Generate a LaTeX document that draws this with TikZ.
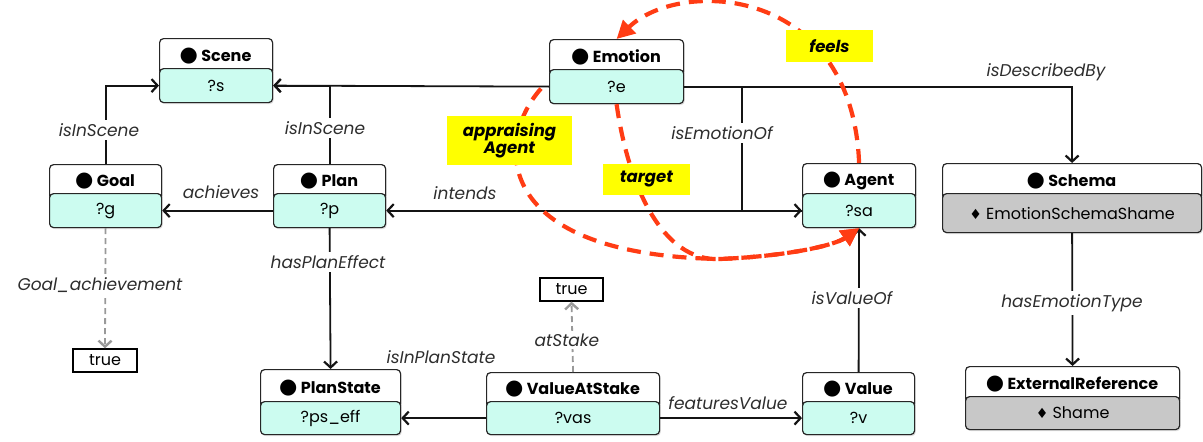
\documentclass[tikz,border=0pt]{standalone}
\usepackage{fontspec}
\setmainfont{Poppins}
\newfontfamily\symfont{DejaVu Sans}
\usetikzlibrary{arrows.meta,calc,shadows}

\definecolor{mint}{RGB}{204,252,240}
\definecolor{schemagray}{RGB}{200,200,200}
\definecolor{edgeink}{RGB}{20,20,20}
\definecolor{labelink}{RGB}{45,45,45}
\definecolor{redflow}{RGB}{255,60,20}
\definecolor{hilite}{RGB}{255,255,0}

\newcommand\bulletmark{{\symfont\fontsize{21}{21}\selectfont ●}}
\newcommand\diamondmark{{\symfont\fontsize{14}{14}\selectfont ♦}}

\tikzset{
  boxbase/.style={draw=black!85, line width=1.2pt, rounded corners=4pt,
    anchor=north west, inner sep=0pt,
    drop shadow={shadow xshift=1.2pt, shadow yshift=-1.5pt, opacity=0.25}},
  hdrbox/.style={boxbase, fill=white},
  bodybox/.style={boxbase, font=\fontsize{16}{16}\selectfont},
  titletext/.style={font=\bfseries\fontsize{16}{16}\selectfont, inner sep=0pt},
  conn/.style={draw=edgeink, line width=1.8pt,
    -{Straight Barb[length=6pt,width=13pt,line width=2.2pt]}},
  softconn/.style={draw=black!40, line width=1.8pt, dash pattern=on 6pt off 4pt,
    -{Straight Barb[length=6pt,width=13pt,line width=2.4pt]}},
  rel/.style={font=\itshape\fontsize{17}{17}\selectfont, text=labelink, inner sep=2pt},
  relcut/.style={rel, fill=white, inner sep=3pt},
  flow/.style={draw=redflow, line width=4.2pt, dash pattern=on 14pt off 9pt,
    -{Triangle[length=18pt,width=18pt]}},
  tag/.style={fill=hilite, font=\bfseries\itshape\fontsize{16.5}{17}\selectfont,
    align=center, inner sep=0pt},
  litbox/.style={draw=black, line width=1.4pt, font=\fontsize{16}{16}\selectfont,
    inner sep=0pt},
}

% class box: [body fill]{name}{left}{top}{right}{body top}{bottom}{title}{body text}
\newcommand\classbox[9][mint]{%
  \node[hdrbox, minimum width={(#5-#3)*1pt}, minimum height={(#6-#4+6)*1pt}]
    (#2h) at (#3,#4) {};
  \node[titletext] (#2t) at ({(#3+#5)/2},{(#4+#6)/2+3}) {\bulletmark\ #8};
  \node[bodybox, fill=#1, minimum width={(#5-#3)*1pt}, minimum height={(#7-#6)*1pt}]
    (#2) at (#3,#6) {#9};
}

\begin{document}
\begin{tikzpicture}[x=1pt,y=-1pt]
\useasboundingbox (0,0) rectangle (1203,442);

% classes
\classbox{scene}{159}{38}{272}{68}{102}{Scene}{?s}
\classbox{emotion}{549}{39}{683}{69}{103}{Emotion}{?e}
\classbox{goal}{49}{164}{161}{193}{227}{Goal}{?g}
\classbox{plan}{273}{164}{385}{193}{227}{Plan}{?p}
\classbox{agent}{802}{163}{915}{193}{227}{Agent}{?sa}
\classbox[schemagray]{schema}{942}{163}{1201}{193}{232}{Schema}{\diamondmark\ EmotionSchemaShame}
\classbox{planstate}{260}{369}{400}{401}{434}{PlanState}{?ps\_eff}
\classbox{vas}{486}{372}{659}{401}{434}{ValueAtStake}{?vas}
\classbox{value}{802}{372}{914}{401}{434}{Value}{?v}
\classbox[schemagray]{extref}{965}{366}{1179}{396}{429}{ExternalReference}{\diamondmark\ Shame}

% literal values
\node[litbox, minimum width=64pt, minimum height=23pt] (goaltrue) at (105,360.5) {true};
\node[litbox, minimum width=63pt, minimum height=23pt] (staketrue) at (571.5,289.5) {true};

% junction column for isEmotionOf
\coordinate (eoj) at (742,0);

% relations
\draw[conn] (goalh.north) |- (scene.west);
\draw[conn] (planh.north) |- (scene.east);
\draw[conn] (emotion.west) -- (scene.east);
\draw[conn] (emotion.east) -| (schemah.north);
\draw[conn] (emotion.east) -| (eoj |- agent.west) -- (agent.west);
\draw[conn] (agent.west) -- (plan.east);
\draw[conn] (plan.west) -- (goal.east);
\draw[conn] (plan.south) -- (planstateh.north);
\draw[conn] (vas.west) -- (planstate.east);
\draw[conn] (vas.east) -- (value.west);
\draw[conn] (valueh.north) -- (agent.south);
\draw[conn] (schema.south) -- (extrefh.north);
\draw[softconn] (goal.south) -- (goaltrue.north);
\draw[softconn] (vash.north) -- (staketrue.south);

% relation labels
\node[relcut] (l1) at (99,130) {isInScene};
\node[relcut] (l2) at (325,128) {isInScene};
\node[rel] (l3) at (1046,72) {isDescribedBy};
\node[relcut] (l4) at (722,133) {isEmotionOf};
\node[rel] (l5) at (465,193) {intends};
\node[rel] (l6) at (221,192) {achieves};
\node[relcut] (l7) at (328,262) {hasPlanEffect};
\node[rel] (l8) at (441,357) {isInPlanState};
\node[rel] (l9) at (728,403) {featuresValue};
\node[relcut] (l10) at (852,298) {isValueOf};
\node[relcut] (l11) at (1072,303) {hasEmotionType};
\node[relcut] (l12) at (100,285) {Goal\_achievement};
\node[relcut] (l13) at (567,340) {atStake};

% appraisal flows
\coordinate (apstart) at ($(emotion.west)+(-8,2)$);
\coordinate (merge) at (720,259);
\draw[flow] (apstart) .. controls (495,140) and (490,255) .. (merge)
  .. controls (790,256) and (835,245) .. (agent.south);
\draw[flow] (emotion.south) .. controls (628,185) and (662,262) .. (merge)
  .. controls (790,256) and (835,245) .. (agent.south);
\draw[flow] (agenth.north) .. controls (852,-15) and (680,-22) .. (emotionh.north);

\node[tag, minimum width=125pt, minimum height=49pt] (apptag) at (509.5,140.5) {appraising\\Agent};
\node[tag, minimum width=87pt, minimum height=31pt] (targettag) at (646.5,179.5) {target};
\node[tag, minimum width=87pt, minimum height=32pt] (feelstag) at (829.5,46) {feels};
\end{tikzpicture}
\end{document}
